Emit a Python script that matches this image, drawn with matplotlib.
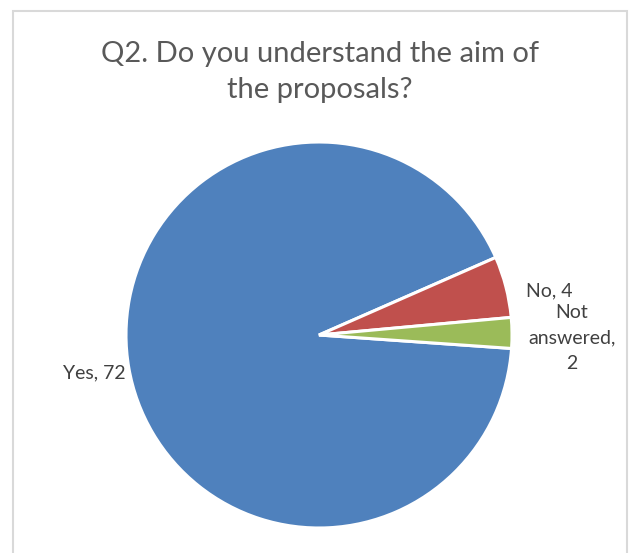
import matplotlib.pyplot as plt
from matplotlib.patches import Rectangle

categories = ["Yes", "No", "Not answered"]
counts = [72, 4, 2]
colors = ["#4f81bd", "#c0504d", "#9bbb59"]

W, H = 640, 553
fig = plt.figure(figsize=(W / 100, H / 100), dpi=100)
plt.rcParams['font.family'] = ['Lato', 'DejaVu Sans']

# chart area frame (light grey, open at the bottom)
fig.patches.append(Rectangle((13 / W, -0.05), 614 / W, 1.05 - 11 / H,
                             transform=fig.transFigure, fill=False,
                             edgecolor="#d9d9d9", linewidth=1.5))

cx, cy, r = 319, 335, 193
ax = fig.add_axes([(cx - r) / W, 1 - (cy + r) / H, 2 * r / W, 2 * r / H])
ax.pie(counts, colors=colors, startangle=-4, counterclock=False, radius=1,
       wedgeprops=dict(edgecolor="white", linewidth=2.2))
ax.set_xlim(-1, 1)
ax.set_ylim(-1, 1)
ax.set_aspect("auto")
ax.axis("off")

label_pos = {
    "Yes": (-1.165, -0.197, "{}, {}", 1.45),
    "No": (1.195, 0.228, "{}, {}", 1.45),
    "Not answered": (1.31, -0.015, "Not\nanswered,\n{1}", 1.6),
}
for cat, n in zip(categories, counts):
    x, y, fmt, ls = label_pos[cat]
    ax.text(x, y, fmt.format(cat, n), ha="center", va="center",
            fontsize=14, color="#404040", linespacing=ls, clip_on=False)

fig.text(0.5, 1 - 72 / H, "Q2. Do you understand the aim of\nthe proposals?",
         ha="center", va="center", fontsize=21, color="#595959",
         linespacing=1.5)

fig.savefig("out.png", dpi=100)
